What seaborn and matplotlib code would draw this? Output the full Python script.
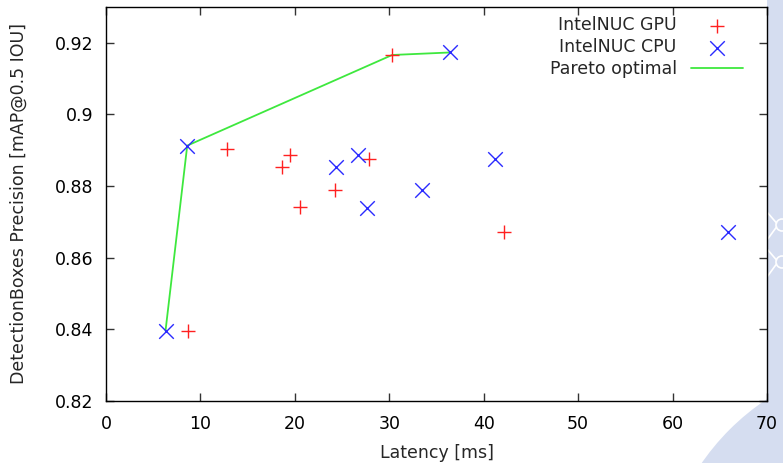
import numpy as np
import pandas as pd
import seaborn as sns
import matplotlib.pyplot as plt
from matplotlib.patches import Circle, Rectangle
from matplotlib.lines import Line2D
from matplotlib.ticker import FuncFormatter

# Data
gpu_latency = [8.7, 12.8, 18.6, 19.5, 20.5, 24.3, 27.8, 30.3, 42.1]
gpu_precision = [0.8396, 0.8904, 0.8852, 0.8887, 0.8741, 0.8790, 0.8875, 0.9166, 0.8673]

cpu_latency = [6.3, 8.6, 24.4, 26.7, 27.6, 33.5, 36.4, 41.2, 65.9]
cpu_precision = [0.8396, 0.8913, 0.8852, 0.8887, 0.8739, 0.8790, 0.9173, 0.8876, 0.8673]

pareto_latency = [6.3, 8.6, 30.3, 36.4]
pareto_precision = [0.8396, 0.8913, 0.9166, 0.9173]

x_ticks = [0, 10, 20, 30, 40, 50, 60, 70]
y_ticks = [0.82, 0.84, 0.86, 0.88, 0.90, 0.92]

gpu = pd.DataFrame({"latency": gpu_latency, "precision": gpu_precision})
cpu = pd.DataFrame({"latency": cpu_latency, "precision": cpu_precision})
pareto = pd.DataFrame({"latency": pareto_latency, "precision": pareto_precision})

sns.set_theme(style="ticks")
plt.rcParams["font.family"] = ["DejaVu Sans"]
FS = 12.5

fig = plt.figure(figsize=(7.83, 4.63), dpi=100)
fig.patch.set_facecolor("white")

# slide background shape behind the plot (right edge + bottom right corner)
bg = "#d5ddf0"
inch = fig.dpi_scale_trans
fig.patches.append(Rectangle((7.67, 0.0), 0.5, 5.0, transform=inch,
                             facecolor=bg, edgecolor="none", zorder=-3))
fig.patches.append(Circle((9.00, -1.37), 2.41, transform=inch,
                          facecolor=bg, edgecolor="none", zorder=-3))
# faint white network decoration on the right edge
for cy in (4.63 - 2.25, 4.63 - 2.62):
    fig.patches.append(Circle((7.82, cy), 0.06, transform=inch,
                              facecolor="none", edgecolor="white", lw=1.2, zorder=-2))
    fig.add_artist(Line2D([7.67, 7.765], [cy + 0.13, cy + 0.02], transform=inch,
                          color="white", lw=1.2, zorder=-2))
    fig.add_artist(Line2D([7.67, 7.765], [cy - 0.15, cy - 0.02], transform=inch,
                          color="white", lw=1.2, zorder=-2))

ax = fig.add_axes([0.1354, 0.1339, 0.9796 - 0.1354, 0.9849 - 0.1339])
ax.set_facecolor("none")

sns.scatterplot(data=gpu, x="latency", y="precision", marker="+", s=110,
                color="#ff2020", linewidth=1.0, label="IntelNUC GPU", ax=ax, zorder=3)
sns.scatterplot(data=cpu, x="latency", y="precision", marker="x", s=110,
                color="#2a2aff", linewidth=1.0, label="IntelNUC CPU", ax=ax, zorder=3)
sns.lineplot(data=pareto, x="latency", y="precision", sort=False, estimator=None,
             color="#3ee83e", linewidth=1.3, label="Pareto optimal", ax=ax, zorder=2)

ax.set_xlim(0, 70)
ax.set_ylim(0.82, 0.93)
ax.set_xticks(x_ticks)
ax.set_yticks(y_ticks)
ax.yaxis.set_major_formatter(FuncFormatter(lambda v, p: "%g" % round(v, 4)))
ax.tick_params(direction="in", length=6, width=1.0, top=True, right=True,
               labelsize=FS, colors="#333333", labelcolor="black")
ax.tick_params(axis="x", pad=10)
ax.tick_params(axis="y", pad=9)
for s in ax.spines.values():
    s.set_color("black")
    s.set_linewidth(1.0)

ax.set_xlabel("Latency [ms]", fontsize=FS, labelpad=8)
ax.set_ylabel("DetectionBoxes Precision [mAP@0.5 IOU]", fontsize=FS, labelpad=19.5)

ax.legend(loc="upper right", bbox_to_anchor=(1 - 7 / 661, 1 + 8 / 394),
          frameon=False, markerfirst=False, fontsize=FS,
          handlelength=3.0, handletextpad=0.8, labelspacing=0.22,
          borderaxespad=0.6, borderpad=0.4)

fig.savefig("out.png", dpi=100)
